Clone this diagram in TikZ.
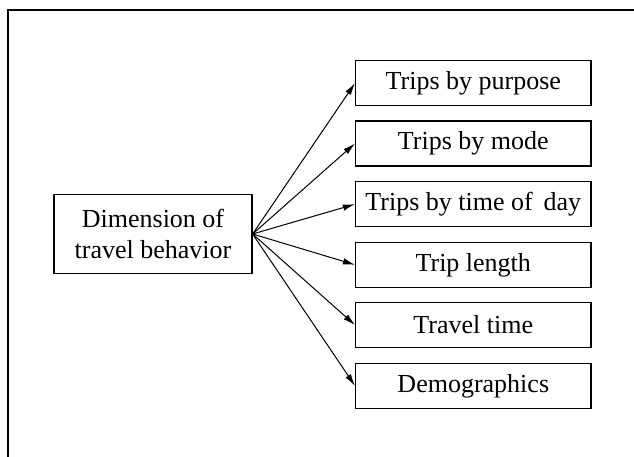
\documentclass[tikz,border=0pt]{standalone}
\usepackage{fontspec}
\setmainfont{Liberation Serif}
\usetikzlibrary{arrows.meta}
\begin{document}
\begin{tikzpicture}[x=1pt,y=-1pt,
  box/.style={draw, line width=1.2pt, inner sep=0pt, align=center,
    font=\fontsize{26}{30.7}\selectfont},
  itembox/.style={box, minimum width=235.5pt, minimum height=45pt},
  conn/.style={line width=1pt, -{Latex[length=12pt,width=6.5pt]}}]
\useasboundingbox (0,0) rectangle (634,457);
\draw[line width=1.2pt] (8,457) -- (8,10) -- (634,10);
\node[box, minimum width=198pt, minimum height=78.6pt] (dim) at (153,234) {Dimension of\\travel behavior};
\node[itembox] (b1) at (473.3,83.2) {Trips by purpose};
\node[itembox] (b2) at (473.3,143.5) {Trips by mode};
\node[itembox] (b3) at (473.3,204.2) {Trips by time of\, day};
\node[itembox] (b4) at (473.3,264.8) {Trip length};
\node[itembox] (b5) at (473.3,325) {Travel time};
\node[itembox] (b6) at (473.3,385.8) {Demographics};
\foreach \i in {1,...,6} \draw[conn] (dim.east) -- (b\i.west);
\end{tikzpicture}
\end{document}
